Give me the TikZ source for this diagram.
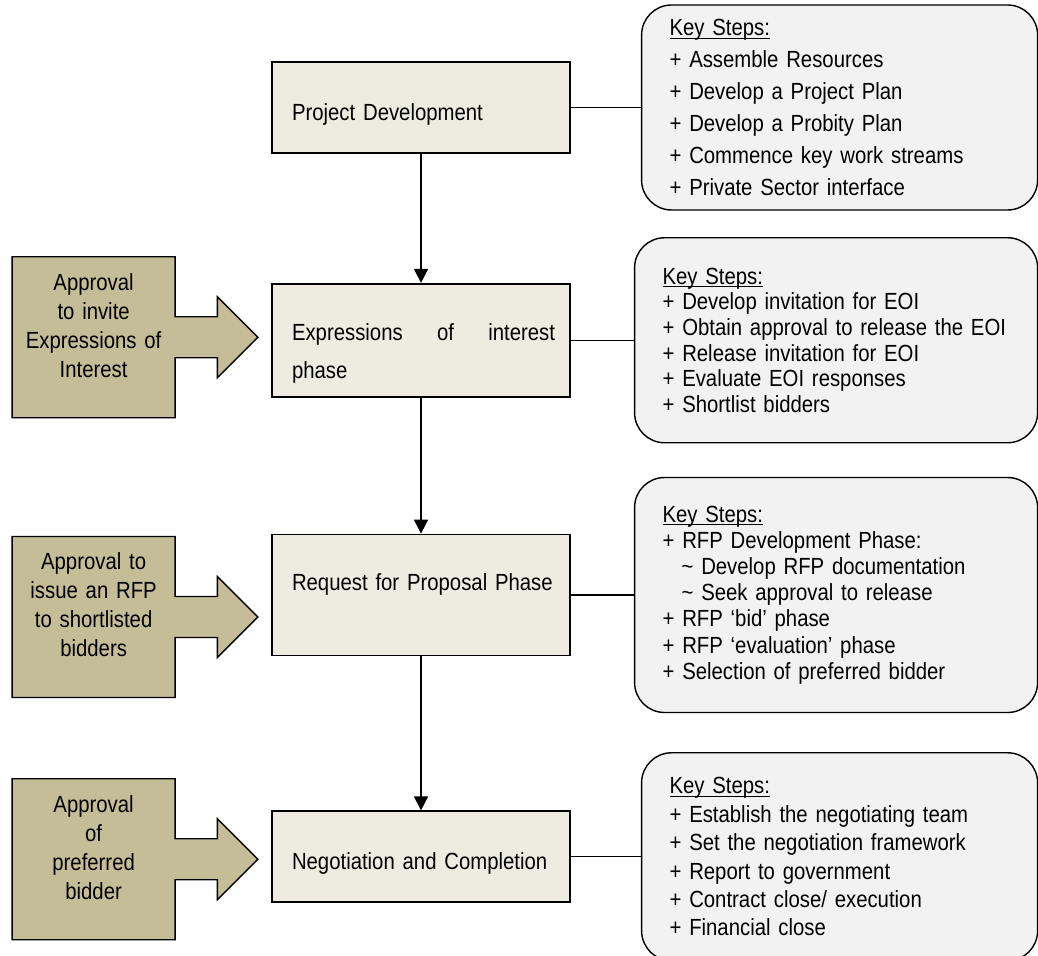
\documentclass[tikz,border=0pt]{standalone}
\usepackage{fontspec}
\setmainfont{Liberation Sans}[FakeStretch=0.87, WordSpace=0.87]
\usepackage{xcolor}
\usepackage{tikz}
\usetikzlibrary{arrows.meta,positioning,shapes.arrows,calc}

\definecolor{phasefill}{HTML}{EEECE1}
\definecolor{approvalfill}{HTML}{C4BD97}
\definecolor{stepsfill}{HTML}{F2F2F2}

\begin{document}
\begin{tikzpicture}[
    node distance=1cm,
    phase/.style={rectangle, draw, line width=1pt, fill=phasefill, minimum height=1.82cm, text width=5.36cm, inner xsep=0.3cm, align=left, font=\fontsize{13.3}{15}\selectfont},
    approval/.style={arrow box, draw, line width=0.8pt, fill=approvalfill, minimum width=3.26cm, minimum height=3.22cm, inner sep=0.18cm, text width=2.9cm, align=center, text depth=2.22cm, font=\fontsize{13.3}{16.5}\selectfont,
        arrow box arrows={east:1.64cm}, arrow box north arrow=-1cm, arrow box south arrow=-1cm, arrow box west arrow=-1cm,
        arrow box shaft width=0.82cm, arrow box head extend=0.4cm, arrow box tip angle=90},
    steps/.style={rectangle, draw, rounded corners=0.6cm, line width=0.8pt, fill=stepsfill, inner xsep=0.56cm, align=left},
    arrow/.style={-{Triangle[length=0.28cm, width=0.28cm]}, line width=0.85pt},
    link/.style={line width=0.6pt}
]
\useasboundingbox (0,0) rectangle (20.76,-19.12);

% Phases
\node[phase, text height=0.6cm] (pd) at (8.42,-2.15) {\hspace*{0.1cm}Project Development};
\node[phase, below=2.58cm of pd, minimum height=2.26cm, text height=0.87cm, font=\fontsize{13.3}{21.9}\selectfont] (eoi) {\hspace*{0.1cm}Expressions\hfill of\hfill interest\\\hspace*{0.1cm}phase};
\node[phase, below=2.72cm of eoi, minimum height=2.42cm, text depth=0.51cm] (rfp) {\hspace*{0.1cm}Request for Proposal Phase};
\node[phase, below=3.08cm of rfp, text height=0.6cm] (neg) {\hspace*{0.1cm}Negotiation and Completion};

% Key steps
\node[steps, right=1.4cm of pd, text width=6.8cm, minimum height=4.1cm, font=\fontsize{13.3}{18.2}\selectfont] (pdsteps) {\underline{\raisebox{0pt}[\height][0pt]{Key Steps:}}\\+ Assemble Resources\\+ Develop a Project Plan\\+ Develop a Probity Plan\\+ Commence key work streams\\+ Private Sector interface};
\node[steps, right=1.26cm of eoi, text width=6.94cm, minimum height=4.1cm, font=\fontsize{13.3}{14.6}\selectfont] (eoisteps) {\underline{\raisebox{0pt}[\height][0pt]{Key Steps:}}\\+ Develop invitation for EOI\\+ Obtain approval to release the EOI\\+ Release invitation for EOI\\+ Evaluate EOI responses\\+ Shortlist bidders};
\node[steps, right=1.26cm of rfp, text width=6.94cm, minimum height=4.7cm, font=\fontsize{13.3}{14.9}\selectfont] (rfpsteps) {\underline{\raisebox{0pt}[\height][0pt]{Key Steps:}}\\+ RFP Development Phase:\\\hspace*{0.38cm}\textasciitilde{} Develop RFP documentation\\\hspace*{0.38cm}\textasciitilde{} Seek approval to release\\+ RFP ‘bid’ phase\\+ RFP ‘evaluation’ phase\\+ Selection of preferred bidder};
\node[steps, right=1.4cm of neg, text width=6.8cm, minimum height=4.16cm, font=\fontsize{13.3}{16.2}\selectfont] (negsteps) {\underline{\raisebox{0pt}[\height][0pt]{Key Steps:}}\\+ Establish the negotiating team\\+ Set the negotiation framework\\+ Report to government\\+ Contract close/ execution\\+ Financial close};

% Approvals
\node[approval] (eoiok) at ($(eoi.west)+(-3.55,0.06)$) {Approval\\to invite\\Expressions of\\Interest};
\node[approval] (rfpok) at ($(rfp.west)+(-3.55,-0.44)$) {Approval to\\issue an RFP\\to shortlisted\\bidders};
\node[approval] (negok) at ($(neg.west)+(-3.55,-0.05)$) {Approval\\of\\preferred\\bidder};

% Arrows
\draw[arrow] (pd) -- (eoi);
\draw[arrow] (eoi) -- (rfp);
\draw[arrow] (rfp) -- (neg);
\draw[link] (pd) -- (pdsteps);
\draw[link] (eoi) -- (eoisteps);
\draw[link] (rfp) -- (rfpsteps);
\draw[link] (neg) -- (negsteps);
\end{tikzpicture}
\end{document}
